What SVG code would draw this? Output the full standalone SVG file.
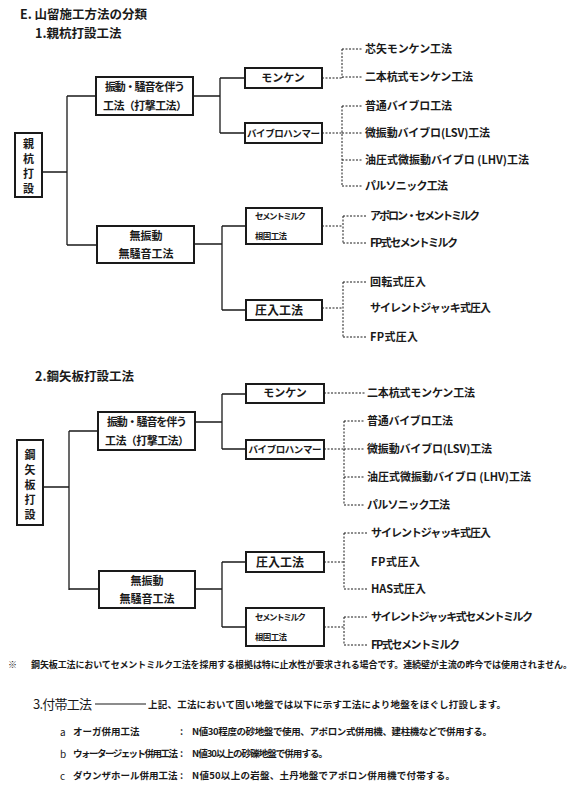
<svg xmlns="http://www.w3.org/2000/svg" width="580" height="800" viewBox="0 0 580 800">
<style>
text{font-family:"Noto Sans CJK JP","Liberation Sans",sans-serif;fill:#1a1a1a}
.t{font-size:12.5px;font-weight:bold}
.bx{fill:#fff;stroke:#1a1a1a;stroke-width:2}
.bt{font-size:11px;font-weight:bold;text-anchor:middle}
.sm{font-size:8.5px;font-weight:bold}
.lf{font-size:11px;font-weight:bold}
.c{fill:none;stroke:#1a1a1a;stroke-width:1.3}
.d{fill:none;stroke:#1a1a1a;stroke-width:1;stroke-dasharray:2 1.5}
.n{font-size:9px;font-weight:bold}
</style>
<rect width="580" height="800" fill="#fff"/>
<text class="t" x="20" y="19">E. 山留施工方法の分類</text>
<text class="t" x="35" y="38">1.親杭打設工法</text>
<text class="t" x="35" y="381">2.鋼矢板打設工法</text>

<g id="connectors">
<path class="c" d="M42,172H67M67,96V245M67,96H96M67,245H97"/>
<path class="c" d="M193,96H220M220,78V133M220,78H245M220,133H245"/>
<path class="c" d="M194,244H222M222,226V310M222,226H246M222,310H246"/>
<path class="d" d="M322,78H342M342,49V78M342,49H362M342,77H362"/>
<path class="d" d="M322,133H342M342,106V186M342,106H362M342,133H362M342,160H362M342,186H362"/>
<path class="d" d="M322,226H343M343,216V243M343,216H367M343,243H367"/>
<path class="d" d="M322,308H343M343,282V337M343,282H367M343,337H367"/>
<path class="c" d="M43,487H69M69,431V590M69,431H98M69,589H99"/>
<path class="c" d="M195,422H222M222,394V449M222,394H246M222,449H246"/>
<path class="c" d="M195,589H222M222,562V627M222,562H246M222,627H246"/>
<path class="d" d="M324,393H365"/>
<path class="d" d="M324,449H344M344,421V505M344,421H365M344,449H365M344,477H365M344,505H365"/>
<path class="d" d="M324,562H344M344,533V589M344,533H368M344,589H368"/>
<path class="d" d="M324,627H344M344,617V645M344,617H368M344,645H368"/>
</g>

<g id="n-root1"><rect class="bx" x="15" y="133" width="27" height="64"/>
<text class="bt" x="28.5" y="148">親</text><text class="bt" x="28.5" y="163">杭</text><text class="bt" x="28.5" y="178">打</text><text class="bt" x="28.5" y="193">設</text></g>
<g id="n-impact1"><rect class="bx" x="96" y="77" width="97" height="38"/>
<text class="bt" x="145" y="91" textLength="80">振動・騒音を伴う</text><text class="bt" x="145" y="110" textLength="84">工法（打撃工法）</text></g>
<g id="n-quiet1"><rect class="bx" x="97" y="226" width="97" height="37"/>
<text class="bt" x="146" y="240">無振動</text><text class="bt" x="146" y="258" textLength="55">無騒音工法</text></g>
<g id="n-monken1"><rect class="bx" x="245" y="68" width="77" height="20"/>
<text class="bt" x="283" y="82">モンケン</text></g>
<g id="n-vibro1"><rect class="bx" x="245" y="123" width="77" height="20"/>
<text class="bt" x="283.5" y="137" textLength="73" style="font-size:9.5px">バイブロハンマー</text></g>
<g id="n-cement1"><rect class="bx" x="246" y="208" width="76" height="36"/>
<text class="sm" x="255" y="219" textLength="51">セメントミルク</text><text class="sm" x="255" y="239" textLength="32">根固工法</text></g>
<g id="n-press1"><rect class="bx" x="246" y="300" width="76" height="20"/>
<text class="bt" x="279" y="315" style="font-size:12px" textLength="48">圧入工法</text></g>

<g id="leaves1">
<text class="lf" x="365" y="53" textLength="87">芯矢モンケン工法</text>
<text class="lf" x="365" y="81" textLength="108">二本杭式モンケン工法</text>
<text class="lf" x="365" y="110" textLength="87">普通バイブロ工法</text>
<text class="lf" x="365" y="137" textLength="125">微振動バイブロ(LSV)工法</text>
<text class="lf" x="365" y="164" textLength="164">油圧式微振動バイブロ (LHV)工法</text>
<text class="lf" x="365" y="190" textLength="83">パルソニック工法</text>
<text class="lf" x="370" y="220" textLength="110">アポロン・セメントミルク</text>
<text class="lf" x="370" y="247" textLength="88">FP式セメントミルク</text>
<text class="lf" x="370" y="286" textLength="56">回転式圧入</text>
<text class="lf" x="370" y="312" textLength="121">サイレントジャッキ式圧入</text>
<text class="lf" x="370" y="341" textLength="48">FP式圧入</text>
</g>

<g id="n-root2"><rect class="bx" x="17" y="440" width="26" height="85"/>
<text class="bt" x="30" y="459">鋼</text><text class="bt" x="30" y="474">矢</text><text class="bt" x="30" y="489">板</text><text class="bt" x="30" y="504">打</text><text class="bt" x="30" y="519">設</text></g>
<g id="n-impact2"><rect class="bx" x="98" y="412" width="97" height="38"/>
<text class="bt" x="147" y="426" textLength="80">振動・騒音を伴う</text><text class="bt" x="147" y="445" textLength="84">工法（打撃工法）</text></g>
<g id="n-quiet2"><rect class="bx" x="99" y="571" width="96" height="37"/>
<text class="bt" x="147" y="585">無振動</text><text class="bt" x="147" y="603" textLength="55">無騒音工法</text></g>
<g id="n-monken2"><rect class="bx" x="246" y="384" width="78" height="19"/>
<text class="bt" x="285" y="397">モンケン</text></g>
<g id="n-vibro2"><rect class="bx" x="246" y="440" width="78" height="19"/>
<text class="bt" x="285" y="453" textLength="73" style="font-size:9.5px">バイブロハンマー</text></g>
<g id="n-press2"><rect class="bx" x="246" y="552" width="78" height="20"/>
<text class="bt" x="280" y="567" style="font-size:12px" textLength="48">圧入工法</text></g>
<g id="n-cement2"><rect class="bx" x="246" y="608" width="78" height="38"/>
<text class="sm" x="255" y="620" textLength="51">セメントミルク</text><text class="sm" x="255" y="640" textLength="32">根固工法</text></g>

<g id="leaves2">
<text class="lf" x="367" y="397" textLength="108">二本杭式モンケン工法</text>
<text class="lf" x="367" y="425" textLength="86">普通バイブロ工法</text>
<text class="lf" x="367" y="453" textLength="125">微振動バイブロ(LSV)工法</text>
<text class="lf" x="367" y="481" textLength="164">油圧式微振動バイブロ (LHV)工法</text>
<text class="lf" x="367" y="509" textLength="83">パルソニック工法</text>
<text class="lf" x="371" y="537" textLength="120">サイレントジャッキ式圧入</text>
<text class="lf" x="371" y="566" textLength="49">FP式圧入</text>
<text class="lf" x="371" y="593" textLength="55">HAS式圧入</text>
<text class="lf" x="371" y="621" textLength="162">サイレントジャッキ式セメントミルク</text>
<text class="lf" x="371" y="649" textLength="89">FP式セメントミルク</text>
</g>

<g id="notes">
<text class="n" x="8" y="668">※</text>
<text class="n" x="31" y="668" textLength="541">鋼矢板工法においてセメントミルク工法を採用する根拠は特に止水性が要求される場合です。連続壁が主流の昨今では使用されません。</text>
<text x="33" y="709" style="font-size:13px" textLength="59">3.付帯工法</text>
<path d="M95,704H146" stroke="#1a1a1a" stroke-width="1.2"/>
<text class="n" x="148" y="708" style="font-size:9.5px" textLength="358">上記、工法において固い地盤では以下に示す工法により地盤をほぐし打設します。</text>
<text x="60" y="736" style="font-size:10px">a</text>
<text class="n" x="73" y="735" style="font-size:9.5px">オーガ併用工法</text>
<text class="n" x="180" y="735" style="font-size:9.5px">:</text>
<text class="n" x="192" y="735" style="font-size:9.5px" textLength="300">N値30程度の砂地盤で使用、アポロン式併用機、建柱機などで併用する。</text>
<text x="60" y="758" style="font-size:10px">b</text>
<text class="n" x="73" y="757" style="font-size:9.5px" textLength="105">ウォータージェット併用工法</text>
<text class="n" x="180" y="757" style="font-size:9.5px">:</text>
<text class="n" x="192" y="757" style="font-size:9.5px" textLength="136">N値30以上の砂礫地盤で併用する。</text>
<text x="60" y="780" style="font-size:10px">c</text>
<text class="n" x="73" y="779" style="font-size:9.5px">ダウンザホール併用工法</text>
<text class="n" x="180" y="779" style="font-size:9.5px">:</text>
<text class="n" x="192" y="779" style="font-size:9.5px" textLength="263">N値50以上の岩盤、土丹地盤でアポロン併用機で付帯する。</text>
</g>
</svg>
